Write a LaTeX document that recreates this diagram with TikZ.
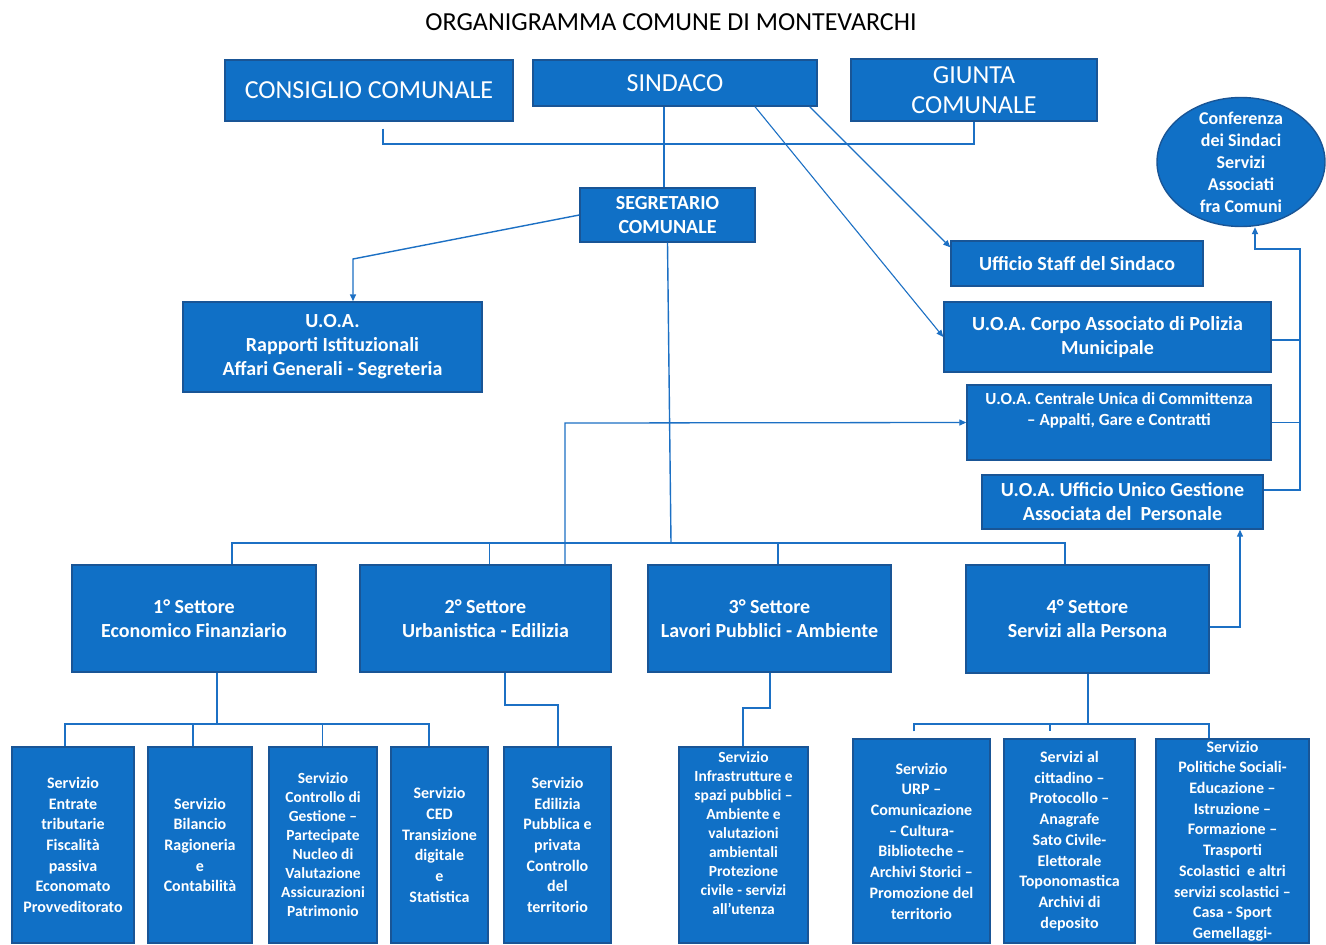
\documentclass[tikz,border=0pt]{standalone}
\usepackage{fontspec}
\setmainfont{Carlito}
\usetikzlibrary{arrows.meta,shapes.geometric,calc}
\definecolor{boxblue}{RGB}{16,112,198}
\definecolor{boxedge}{RGB}{25,85,150}
\definecolor{lineblue}{RGB}{28,112,196}
\newcommand\myfs[2]{\fontsize{#1}{#2}\selectfont}
\tikzset{
  box/.style={draw=boxedge, line width=1.4pt, fill=boxblue, text=white, inner sep=0pt, align=center, font=\bfseries\myfs{20}{24}},
  big/.style={box, font=\myfs{26}{30}},
  svc/.style={box, font=\bfseries\myfs{16}{20.7}, minimum height=196pt},
  svcsmall/.style={box, font=\bfseries\myfs{15.5}{19}, minimum height=196pt},
  svctall/.style={box, font=\bfseries\myfs{16}{20.7}, minimum height=204pt},
  conn/.style={draw=lineblue, line width=1.8pt},
  thinconn/.style={draw=lineblue, line width=1.1pt},
  tip/.style={-{Triangle[length=7pt,width=6pt]}}
}
\begin{document}
\begin{tikzpicture}[x=1pt,y=-1pt]
\useasboundingbox (0,0) rectangle (1326,945);
\fill[white] (0,0) rectangle (1326,945);

% title
\node[font=\myfs{26}{30}] (title) at (671,22) {ORGANIGRAMMA COMUNE DI MONTEVARCHI};

% top row
\node[big, minimum width=288pt, minimum height=61pt] (cons) at (369,90.5) {CONSIGLIO COMUNALE};
\node[big, minimum width=284pt, minimum height=46pt] (sind) at (675,83) {SINDACO};
\node[big, minimum width=246pt, minimum height=62pt] (giunta) at (974,90) {GIUNTA\\COMUNALE};

\node[box, minimum width=175pt, minimum height=54pt] (seg) at (667.5,215) {SEGRETARIO\\COMUNALE};
\node[box, minimum width=299pt, minimum height=90pt] (uoa) at (332.5,347) {U.O.A.\\Rapporti Istituzionali\\Affari Generali - Segreteria};

% right column
\node[box, ellipse, font=\bfseries\myfs{18}{22}, minimum width=168pt, minimum height=129pt, inner ysep=-15pt] (conf) at (1241,162) {Conferenza\\dei Sindaci\\Servizi\\Associati\\fra Comuni};
\node[box, minimum width=252pt, minimum height=45pt] (staff) at (1077,263.5) {Ufficio Staff del Sindaco};
\node[box, minimum width=327pt, minimum height=70pt] (corpo) at (1107.5,337) {U.O.A. Corpo Associato di Polizia\\Municipale};
\node[box, font=\bfseries\myfs{17}{20.5}, minimum width=304pt, minimum height=75pt] (centr) at (1119,422.5) {U.O.A. Centrale Unica di Committenza\\– Appalti, Gare e Contratti\\\strut};
\node[box, minimum width=281pt, minimum height=54pt] (unico) at (1122.5,502) {U.O.A. Ufficio Unico Gestione\\Associata del~ Personale};

% sectors
\node[box, minimum width=244pt, minimum height=107pt] (s1) at (194,618.5) {1° Settore\\Economico Finanziario};
\node[box, minimum width=251pt, minimum height=107pt] (s2) at (485.5,618.5) {2° Settore\\Urbanistica - Edilizia};
\node[box, minimum width=243pt, minimum height=107pt] (s3) at (769.5,618.5) {3° Settore\\Lavori Pubblici - Ambiente};
\node[box, minimum width=243pt, minimum height=108pt] (s4) at (1087.5,619) {4° Settore\\Servizi alla Persona};

% services
\node[svc, minimum width=122pt] (A) at (73,845) {Servizio\\Entrate\\tributarie\\Fiscalità\\passiva\\Economato\\Provveditorato};
\node[svc, minimum width=104pt] (B) at (200,845) {Servizio\\Bilancio\\Ragioneria\\e\\Contabilità};
\node[svcsmall, minimum width=108pt] (C) at (323,845) {Servizio\\Controllo di\\Gestione –\\Partecipate\\Nucleo di\\Valutazione\\Assicurazioni\\Patrimonio};
\node[svc, minimum width=97pt] (D) at (439.5,845) {Servizio\\CED\\Transizione\\digitale\\e\\Statistica};
\node[svc, minimum width=107pt] (E) at (557.5,845) {Servizio\\Edilizia\\Pubblica e\\privata\\Controllo\\del\\territorio};
\node[svcsmall, minimum width=129pt] (F) at (743.5,845) {Servizio\\Infrastrutture e\\spazi pubblici –\\Ambiente e\\valutazioni\\ambientali\\Protezione\\civile - servizi\\all’utenza\\\strut};
\node[svctall, minimum width=137pt] (G) at (921.5,841) {Servizio\\URP –\\Comunicazione\\– Cultura-\\Biblioteche –\\Archivi Storici –\\Promozione del\\territorio};
\node[svctall, minimum width=131pt] (H) at (1069.5,841) {Servizi al\\cittadino –\\Protocollo –\\Anagrafe\\Sato Civile-\\Elettorale\\Toponomastica\\Archivi di\\deposito};
\node[svctall, minimum width=153pt] (I) at (1232.5,841) {Servizio\\Politiche Sociali-\\Educazione –\\Istruzione –\\Formazione –\\Trasporti\\Scolastici~ e altri\\servizi scolastici –\\Casa - Sport\\Gemellaggi-};

% ---- connectors ----
\coordinate (cg) at (383,144);
\draw[conn] ($(cons.south)+(14,7)$) -- (cg) -| (giunta.south);
\draw[conn] ([xshift=-11pt]sind.south) -- ([xshift=-3.5pt]seg.north);
\draw[thinconn, tip] ($(sind.south east)+(-8,0)$) -- ($(staff.north west)+(0,7)$);
\draw[thinconn, tip] ($(sind.south)+(80,0)$) -- (corpo.west);

\coordinate (k1) at (353,259);
\draw[thinconn, line width=1.4pt, tip] (seg.west) -- (k1) -- (k1 |- uoa.north);

% main bus
\coordinate (busC) at (671,543);
\coordinate (busL) at (232,543);
\coordinate (busR) at (1065,543);
\coordinate (d2) at (489.5,543);
\coordinate (d3) at (778,543);
\draw[thinconn, line width=1.4pt] (seg.south) -- (busC);
\draw[conn] (busL |- s1.north) -- (busL) -- (busR) -- (busR |- s4.north);
\draw[thinconn, line width=1.3pt] (d2) -- (d2 |- s2.north);
\draw[thinconn, line width=1.3pt] (d3) -- (d3 |- s3.north);

% 2 settore -> centrale
\coordinate (k2) at (565,423);
\draw[thinconn, line width=1.3pt, tip] (k2 |- s2.north) -- (k2) -- (centr.west);

% right bracket to conferenza
\coordinate (rTop) at (1300,249);
\coordinate (rTurn) at (1255,249);
\draw[conn, tip] ([yshift=12pt]unico.east) -| (rTop) -- (rTurn) -- (rTurn |- conf.south);
\draw[thinconn, line width=1.3pt] ([yshift=-3pt]corpo.east) -- ([yshift=-3pt]corpo.east -| rTop);
\draw[thinconn, line width=1.3pt] (centr.east) -- (centr.east -| rTop);

% 4 settore -> unico
\coordinate (k4) at (1240,627);
\draw[thinconn, line width=1.3pt, tip] ([yshift=-8pt]s4.east) -- (k4) -- (k4 |- unico.south);

% 1 settore children
\coordinate (b1) at (217,724);
\coordinate (bA) at (65,724);
\coordinate (bB) at (193,724);
\coordinate (bC) at (322.7,724);
\coordinate (bD) at (429,724);
\draw[conn] (b1 |- s1.south) -- (b1);
\draw[thinconn, line width=1.3pt] (bA |- A.north) -- (bA) -- (bD) -- (bD |- D.north);
\draw[thinconn, line width=1.3pt] (bB) -- (bB |- B.north);
\draw[thinconn, line width=1.3pt] (bC) -- (bC |- C.north);

% 2 settore -> E
\coordinate (e1) at (505,705);
\coordinate (e2) at (558,705);
\draw[thinconn, line width=1.3pt] (e1 |- s2.south) -- (e1) -- (e2) -- (e2 |- E.north);

% 3 settore -> F
\coordinate (f1) at (770,708);
\coordinate (f2) at (743,708);
\draw[thinconn, line width=1.3pt] (f1 |- s3.south) -- (f1) -- (f2) -- (f2 |- F.north);

% 4 settore children
\coordinate (g0) at (1088,724);
\coordinate (gG) at (914,724);
\coordinate (gH) at (1050,724);
\coordinate (gI) at (1209,724);
\draw[conn] (g0 |- s4.south) -- (g0);
\draw[thinconn, line width=1.3pt] ($(gG |- G.north)+(0,-7)$) -- (gG) -- (gI) -- (gI |- I.north);
\draw[thinconn, line width=1.3pt] (gH) -- ($(gH |- H.north)+(0,-7)$);
\end{tikzpicture}
\end{document}
